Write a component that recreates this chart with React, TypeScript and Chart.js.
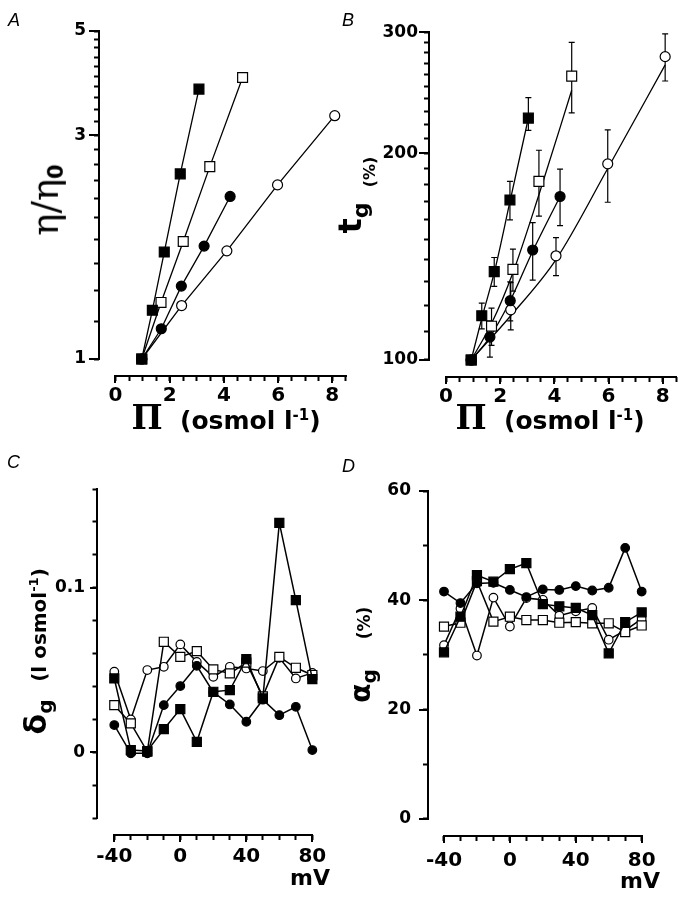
import React, { useEffect, useRef } from "react";
import { Chart, registerables } from "chart.js";

Chart.register(...registerables);

// ===== Panel A : eta/eta0 against PI (osmol l-1) =====
const A_FSQ_X = [0.97, 1.36, 1.8, 2.39, 3.08];
const A_FSQ_Y = [1.0, 1.27, 1.69, 2.48, 3.76];
const A_OSQ_X = [0.97, 1.68, 2.5, 3.48, 4.69];
const A_OSQ_Y = [1.0, 1.32, 1.78, 2.57, 3.98];
const A_FCI_X = [0.97, 1.69, 2.43, 3.27, 4.23];
const A_FCI_Y = [1.0, 1.16, 1.43, 1.74, 2.22];
const A_OCI_X = [0.97, 2.44, 4.11, 5.98, 8.09];
const A_OCI_Y = [1.0, 1.3, 1.7, 2.35, 3.3];

// ===== Panel B : t_g (%) against PI =====
const B_FSQ_X = [0.93, 1.32, 1.78, 2.36, 3.04];
const B_FSQ_Y = [100, 116, 134.5, 171, 225];
const B_FSQ_HI = [100, 121, 141, 182, 241];
const B_FSQ_LO = [100, 111, 128, 160, 216];
const B_FSQ_FIT = [100, 115, 134, 170, 225];

const B_OSQ_X = [0.93, 1.68, 2.47, 3.43, 4.64];
const B_OSQ_Y = [100, 112, 135.5, 182, 259];
const B_OSQ_HI = [100, 119, 145, 202, 290];
const B_OSQ_LO = [100, 105, 126, 162, 229];
const B_OSQ_FIT = [100, 113, 134, 174, 247];

const B_FCI_X = [0.93, 1.62, 2.37, 3.2, 4.21];
const B_FCI_Y = [100, 108, 122, 144.6, 173];
const B_FCI_HI = [100, 114, 130, 158.5, 189.6];
const B_FCI_LO = [100, 101, 114, 130.7, 156.9];
const B_FCI_FIT = [100, 108, 122, 144, 173];

const B_OCI_X = [0.93, 2.39, 4.06, 5.97, 8.09];
const B_OCI_Y = [100, 118.3, 141.8, 193, 276.5];
const B_OCI_HI = [100, 129.6, 150.7, 216.3, 298.4];
const B_OCI_LO = [100, 110.6, 132.7, 169.7, 254.8];
const B_OCI_FIT = [100, 116, 140, 190, 269];

// ===== Panels C & D : against membrane potential (mV) =====
const MV = [-40, -30, -20, -10, 0, 10, 20, 30, 40, 50, 60, 70, 80];

const C_FSQ = [0.0449, 0.0014, 0.0008, 0.0141, 0.0263, 0.0064, 0.0368, 0.0378, 0.0566, 0.0328, 0.1394, 0.0925, 0.0445];
const C_OSQ = [0.0287, 0.0176, 0.0005, 0.0672, 0.058, 0.0615, 0.0504, 0.048, 0.0545, 0.034, 0.058, 0.0514, 0.047];
const C_OCI = [0.049, 0.02, 0.05, 0.052, 0.0656, 0.055, 0.0459, 0.052, 0.051, 0.0494, 0.0575, 0.0449, 0.0483];
const C_FCI = [0.0166, -0.0006, -0.0006, 0.0287, 0.0403, 0.0526, 0.0366, 0.0291, 0.0186, 0.032, 0.0226, 0.0277, 0.0014];

const D_FSQ = [30.5, 37.0, 44.6, 43.4, 45.7, 46.8, 39.3, 38.9, 38.6, 37.3, 30.3, 36.0, 37.8];
const D_OSQ = [35.2, 35.9, 43.5, 36.1, 37.0, 36.4, 36.4, 35.9, 36.0, 35.8, 35.8, 34.2, 35.4];
const D_FCI = [41.6, 39.5, 43.1, 43.2, 41.9, 40.6, 42.0, 41.9, 42.6, 41.8, 42.3, 49.6, 41.6];
const D_OCI = [31.8, 38.5, 29.9, 40.5, 35.2, 40.4, 40.1, 37.2, 38.0, 38.6, 32.8, 34.5, 36.6];

// ===== Tick values (major ones carry labels) =====
const PI_MAJOR = [0, 2, 4, 6, 8];
const PI_MINOR = [0.5, 1, 1.5, 2.5, 3, 3.5, 4.5, 5, 5.5, 6.5, 7, 7.5, 8.5];
const A_Y_MAJOR = [1, 3, 5];
const A_Y_MINOR = [1.2, 1.4, 1.6, 1.8, 2, 2.2, 2.4, 2.6, 2.8, 3.2, 3.4, 3.6, 3.8, 4, 4.2, 4.4, 4.6, 4.8];
const B_Y_MAJOR = [100, 200, 300];
const B_Y_MINOR = [110, 120, 130, 140, 150, 160, 170, 180, 190, 210, 220, 230, 240, 250, 260, 270, 280, 290];
const MV_MAJOR = [-40, 0, 40, 80];
const MV_MINOR = [-30, -20, -10, 10, 20, 30, 50, 60, 70];
const C_Y_MAJOR = [0, 0.1];
const C_Y_MINOR = [-0.04, -0.02, 0.02, 0.04, 0.06, 0.08, 0.12, 0.14, 0.16];
const D_Y_MAJOR = [0, 20, 40, 60];
const D_Y_MINOR = [10, 30, 50];

const Y_W = 50;
const X_H = 40;
const FONT = "'DejaVu Sans', sans-serif";

type Mk = "fsq" | "osq" | "fci" | "oci";

function series(xs: number[], ys: number[], mk: Mk, opt: any = {}) {
  const sq = mk === "fsq" || mk === "osq";
  const filled = mk === "fsq" || mk === "fci";
  const big = opt.big !== false;
  return {
    data: xs.map((x, i) => ({ x, y: ys[i] })),
    borderColor: "#000",
    borderWidth: opt.lw ?? 1.3,
    showLine: opt.showLine !== false,
    tension: 0,
    fill: false,
    clip: false,
    pointStyle: sq ? "rect" : "circle",
    pointRadius: sq ? (big ? 7 : 6.4) : big ? 5 : 4.3,
    pointBackgroundColor: filled ? "#000" : "#fff",
    pointBorderColor: "#000",
    pointBorderWidth: 1.2,
  };
}

function fitLine(xs: number[], ys: number[]) {
  return {
    data: xs.map((x, i) => ({ x, y: ys[i] })),
    borderColor: "#000",
    borderWidth: 1.3,
    pointRadius: 0,
    fill: false,
    clip: false,
    cubicInterpolationMode: "monotone",
  };
}

// axis lines (which stop at the end ticks, leaving the corner open) + longer major ticks
function axesPlugin(def: any) {
  return {
    id: "paperAxes",
    afterDraw(chart: any) {
      const { ctx, chartArea } = chart;
      const xs = chart.scales.x;
      const ys = chart.scales.y;
      const L = Math.round(chartArea.left);
      const B = Math.round(chartArea.bottom);
      ctx.save();
      ctx.fillStyle = "#000";
      const y0 = ys.getPixelForValue(def.y.line[0]);
      const y1 = ys.getPixelForValue(def.y.line[1]);
      ctx.fillRect(L - 1, Math.round(y1) - 1, 2, Math.round(y0) - Math.round(y1) + 2);
      const x0 = xs.getPixelForValue(def.x.line[0]);
      const x1 = xs.getPixelForValue(def.x.line[1]);
      ctx.fillRect(Math.round(x0) - 1, B - 1, Math.round(x1) - Math.round(x0) + 2, 2);
      for (const v of def.y.major) {
        const p = Math.round(ys.getPixelForValue(v));
        ctx.fillRect(L - def.y.majorLen, p - 1, def.y.majorLen, 2);
      }
      for (const v of def.x.major) {
        const p = Math.round(xs.getPixelForValue(v));
        ctx.fillRect(p - 1, B, 2, def.x.majorLen);
      }
      ctx.restore();
    },
  };
}

function errorPlugin(bars: any[]) {
  return {
    id: "errorBars",
    beforeDatasetsDraw(chart: any) {
      const { ctx } = chart;
      const xs = chart.scales.x;
      const ys = chart.scales.y;
      ctx.save();
      ctx.strokeStyle = "#000";
      ctx.lineWidth = 1.2;
      ctx.beginPath();
      for (const b of bars) {
        b.x.forEach((xv: number, i: number) => {
          const lo = b.lo[i];
          const hi = b.hi[i];
          if (hi === lo) return;
          const px = xs.getPixelForValue(xv);
          const p1 = ys.getPixelForValue(lo);
          const p2 = ys.getPixelForValue(hi);
          ctx.moveTo(px, p1);
          ctx.lineTo(px, p2);
          ctx.moveTo(px - 3, p1);
          ctx.lineTo(px + 3, p1);
          ctx.moveTo(px - 3, p2);
          ctx.lineTo(px + 3, p2);
        });
      }
      ctx.stroke();
      ctx.restore();
    },
  };
}

function scaleOpts(ax: any, horizontal: boolean) {
  const all = [...ax.major, ...ax.minor].sort((a: number, b: number) => a - b);
  return {
    type: ax.type,
    min: ax.min,
    max: ax.max,
    bounds: "data",
    border: { display: false },
    grid: {
      display: true,
      drawOnChartArea: false,
      drawTicks: true,
      tickLength: ax.minorLen,
      tickWidth: 2,
      tickColor: "#000",
    },
    ticks: {
      autoSkip: false,
      maxRotation: 0,
      minRotation: 0,
      padding: ax.pad + ax.majorLen - ax.minorLen,
      color: "#000",
      font: { family: FONT, size: ax.fontSize, weight: "bold" },
      callback: (v: number) => (ax.major.indexOf(v) >= 0 ? String(v) : ""),
    },
    afterBuildTicks: (s: any) => {
      s.ticks = all.map((v: number) => ({ value: v }));
    },
    afterFit: (s: any) => {
      if (horizontal) s.height = X_H;
      else s.width = Y_W;
    },
  };
}

function buildConfig(def: any) {
  const c = def.canvas;
  const a = def.area;
  const padding = {
    left: a.left - c.left - Y_W,
    top: a.top - c.top,
    right: c.left + c.width - a.right,
    bottom: c.top + c.height - a.bottom - X_H,
  };
  return {
    type: "line",
    data: { datasets: def.datasets },
    options: {
      animation: false,
      responsive: false,
      events: [],
      layout: { padding },
      plugins: { legend: { display: false }, tooltip: { enabled: false }, title: { display: false } },
      scales: { x: scaleOpts(def.x, true), y: scaleOpts(def.y, false) },
    },
    plugins: [axesPlugin(def), errorPlugin(def.bars || [])],
  };
}

const PANEL_A = {
  canvas: { left: 0, top: 0, width: 355, height: 440 },
  area: { left: 99, top: 31, right: 347, bottom: 376 },
  x: { type: "linear", min: -0.608, max: 8.535, major: PI_MAJOR, minor: PI_MINOR, majorLen: 7, minorLen: 5, pad: 1, line: [0, 8.5], fontSize: 20 },
  y: { type: "logarithmic", min: 0.92, max: 5, major: A_Y_MAJOR, minor: A_Y_MINOR, majorLen: 10, minorLen: 5, pad: 3, line: [1, 5], fontSize: 17 },
  datasets: [
    series(A_FSQ_X, A_FSQ_Y, "fsq"),
    series(A_OSQ_X, A_OSQ_Y, "osq"),
    series(A_FCI_X, A_FCI_Y, "fci"),
    series(A_OCI_X, A_OCI_Y, "oci"),
  ],
};

const PANEL_B = {
  canvas: { left: 355, top: 0, width: 332, height: 440 },
  area: { left: 429, top: 32, right: 677, bottom: 377 },
  x: { type: "linear", min: -0.628, max: 8.527, major: PI_MAJOR, minor: PI_MINOR, majorLen: 7, minorLen: 5, pad: 1, line: [0, 8.5], fontSize: 20 },
  y: { type: "logarithmic", min: 94.46, max: 300.3, major: B_Y_MAJOR, minor: B_Y_MINOR, majorLen: 10, minorLen: 5, pad: 1, line: [100, 300], fontSize: 17 },
  datasets: [
    series(B_FSQ_X, B_FSQ_Y, "fsq", { showLine: false }),
    series(B_OSQ_X, B_OSQ_Y, "osq", { showLine: false }),
    series(B_FCI_X, B_FCI_Y, "fci", { showLine: false }),
    series(B_OCI_X, B_OCI_Y, "oci", { showLine: false }),
    fitLine(B_FSQ_X, B_FSQ_FIT),
    fitLine(B_OSQ_X, B_OSQ_FIT),
    fitLine(B_FCI_X, B_FCI_FIT),
    fitLine(B_OCI_X, B_OCI_FIT),
  ],
  bars: [
    { x: B_FSQ_X, lo: B_FSQ_LO, hi: B_FSQ_HI },
    { x: B_OSQ_X, lo: B_OSQ_LO, hi: B_OSQ_HI },
    { x: B_FCI_X, lo: B_FCI_LO, hi: B_FCI_HI },
    { x: B_OCI_X, lo: B_OCI_LO, hi: B_OCI_HI },
  ],
};

const PANEL_C = {
  canvas: { left: 0, top: 440, width: 355, height: 461 },
  area: { left: 97, top: 490, right: 313, bottom: 835 },
  x: { type: "linear", min: -50.48, max: 80.4, major: MV_MAJOR, minor: MV_MINOR, majorLen: 7, minorLen: 5, pad: 3, line: [-40, 80], fontSize: 20 },
  y: { type: "linear", min: -0.0502, max: 0.1594, major: C_Y_MAJOR, minor: C_Y_MINOR, majorLen: 7, minorLen: 4.5, pad: 5, line: [-0.04, 0.16], fontSize: 17 },
  datasets: [
    series(MV, C_FSQ, "fsq", { big: false, lw: 1.5 }),
    series(MV, C_FCI, "fci", { big: false, lw: 1.5 }),
    series(MV, C_OSQ, "osq", { big: false, lw: 1.5 }),
    series(MV, C_OCI, "oci", { big: false, lw: 1.5 }),
  ],
};

const PANEL_D = {
  canvas: { left: 355, top: 440, width: 332, height: 461 },
  area: { left: 428, top: 491, right: 642, bottom: 836 },
  x: { type: "linear", min: -49.71, max: 80.2, major: MV_MAJOR, minor: MV_MINOR, majorLen: 7, minorLen: 5, pad: 6, line: [-40, 80], fontSize: 20 },
  y: { type: "linear", min: -3.11, max: 60, major: D_Y_MAJOR, minor: D_Y_MINOR, majorLen: 9, minorLen: 5, pad: 8, line: [0, 60], fontSize: 17 },
  datasets: [
    series(MV, D_FSQ, "fsq", { big: false, lw: 1.5 }),
    series(MV, D_FCI, "fci", { big: false, lw: 1.5 }),
    series(MV, D_OSQ, "osq", { big: false, lw: 1.5 }),
    series(MV, D_OCI, "oci", { big: false, lw: 1.5 }),
  ],
};

function Panel({ def }: { def: any }) {
  const ref = useRef<HTMLCanvasElement | null>(null);
  useEffect(() => {
    const chart = new Chart(ref.current as HTMLCanvasElement, buildConfig(def) as any);
    return () => chart.destroy();
  }, [def]);
  const c = def.canvas;
  return (
    <canvas
      ref={ref}
      width={c.width}
      height={c.height}
      style={{ position: "absolute", left: c.left, top: c.top, width: c.width, height: c.height, display: "block" }}
    />
  );
}

const bold: React.CSSProperties = { fontFamily: FONT, fontWeight: "bold", color: "#000" };

function T({ x, y, rot, align, children, style }: any) {
  const tx = align === "right" ? "-100%" : "-50%";
  return (
    <div
      style={{
        position: "absolute",
        left: x,
        top: y,
        transform: `translate(${tx},-50%)${rot ? " rotate(-90deg)" : ""}`,
        transformOrigin: align === "right" ? "right center" : "center center",
        whiteSpace: "nowrap",
        lineHeight: 1,
        pointerEvents: "none",
        ...bold,
        ...style,
      }}
    >
      {children}
    </div>
  );
}

function PiTitle({ x, y }: { x: number; y: number }) {
  return (
    <T x={x} y={y} style={{ fontSize: 25 }}>
      <span style={{ fontFamily: "'DejaVu Serif', serif", fontSize: 33, fontWeight: "bold" }}>Π</span>
      <span>{"\u00a0\u00a0(osmol l"}</span>
      <sup style={{ fontSize: 15, verticalAlign: "0.55em" }}>-1</sup>
      <span>)</span>
    </T>
  );
}

function Letter({ x, y, ch }: { x: number; y: number; ch: string }) {
  return (
    <div
      style={{
        position: "absolute",
        left: x,
        top: y,
        fontFamily: "'Liberation Sans', Arial, sans-serif",
        fontStyle: "italic",
        fontSize: 18,
        lineHeight: 1,
        color: "#000",
      }}
    >
      {ch}
    </div>
  );
}

export default function App() {
  return (
    <div style={{ position: "absolute", left: 0, top: 0, width: 687, height: 901, background: "#fff", overflow: "hidden" }}>
      <Panel def={PANEL_A} />
      <Panel def={PANEL_B} />
      <Panel def={PANEL_C} />
      <Panel def={PANEL_D} />

      <Letter x={8} y={11} ch="A" />
      <Letter x={342} y={11} ch="B" />
      <Letter x={7} y={453} ch="C" />
      <Letter x={342} y={457} ch="D" />

      {/* A y title */}
      <T x={47} y={200} rot style={{ fontWeight: "normal" }}>
        <span style={{ fontFamily: "'DejaVu Serif', serif", fontSize: 37 }}>η/η</span>
        <span style={{ fontSize: 21, fontWeight: "bold", verticalAlign: "-0.25em" }}>0</span>
      </T>
      <PiTitle x={226} y={417} />

      {/* B y title */}
      <T x={353} y={218} rot>
        <span style={{ fontSize: 32 }}>t</span>
        <span style={{ fontSize: 22, verticalAlign: "-0.3em" }}>g</span>
      </T>
      <T x={370} y={172} rot style={{ fontSize: 16 }}>(%)</T>
      <PiTitle x={550} y={417} />

      {/* C y title */}
      <T x={38} y={717} rot>
        <span style={{ fontSize: 30 }}>δ</span>
        <span style={{ fontSize: 20, verticalAlign: "-0.3em" }}>g</span>
      </T>
      <T x={38} y={625} rot style={{ fontSize: 20 }}>
        (l osmol<sup style={{ fontSize: 13, verticalAlign: "0.6em" }}>-1</sup>)
      </T>
      <T x={330} y={878} align="right" style={{ fontSize: 22 }}>mV</T>

      {/* D y title */}
      <T x={363} y={686} rot>
        <span style={{ fontSize: 28 }}>α</span>
        <span style={{ fontSize: 20, verticalAlign: "-0.3em" }}>g</span>
      </T>
      <T x={364} y={623} rot style={{ fontSize: 17 }}>(%)</T>
      <T x={660} y={881} align="right" style={{ fontSize: 22 }}>mV</T>
    </div>
  );
}
